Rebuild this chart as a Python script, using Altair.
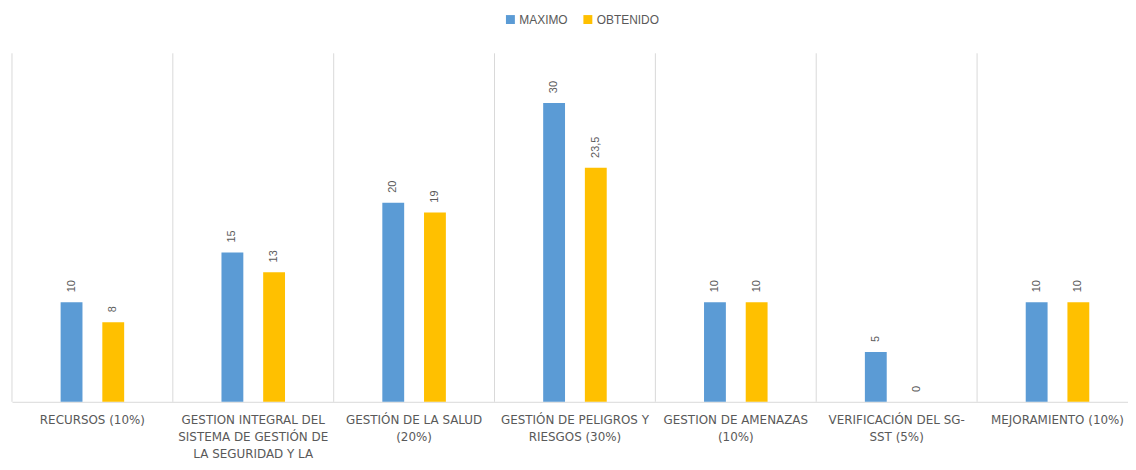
import altair as alt
import pandas as pd

categorias = [
    "RECURSOS (10%)",
    "GESTION INTEGRAL DEL|SISTEMA DE GESTIÓN DE|LA SEGURIDAD Y LA|SALUD EN EL TRABAJO",
    "GESTIÓN DE LA SALUD|(20%)",
    "GESTIÓN DE PELIGROS Y|RIESGOS (30%)",
    "GESTION DE AMENAZAS|(10%)",
    "VERIFICACIÓN DEL SG-|SST (5%)",
    "MEJORAMIENTO (10%)",
]
series = ["MAXIMO", "OBTENIDO"]
maximo = [10, 15, 20, 30, 10, 5, 10]
obtenido = [8, 13, 19, 23.5, 10, 0, 10]
colores = ["#5B9BD5", "#FFC000"]

rows = []
for c, m, o in zip(categorias, maximo, obtenido):
    rows.append({"cat": c, "serie": series[0], "valor": m})
    rows.append({"cat": c, "serie": series[1], "valor": o})
df = pd.DataFrame(rows)
df["etiqueta"] = df["valor"].map(lambda v: f"{v:g}".replace(".", ","))
cats_df = pd.DataFrame({"cat": categorias})

x_scale = alt.Scale(domain=categorias, range=[0, {"expr": "width + 10"}],
                    paddingInner=0, paddingOuter=0)
x_axis = alt.Axis(
    title=None,
    labelAngle=0,
    labelExpr="split(datum.label, '|')",
    labelFont="DejaVu Sans",
    labelFontSize=12,
    labelColor="#595959",
    labelLineHeight=17,
    labelPadding=13,
    labelLimit=200,
    ticks=False,
    domainColor="#d9d9d9",
    domainWidth=1,
    grid=False,
)
y_scale = alt.Scale(domain=[0, 35], nice=False)
off_scale = alt.Scale(domain=series, range=[49, 113], paddingInner=0.476, paddingOuter=0)

rules = alt.Chart(cats_df).mark_rule(color="#d9d9d9", strokeWidth=1).encode(
    x=alt.X("cat:N", bandPosition=0, scale=x_scale, axis=x_axis)
)

bars = alt.Chart(df).mark_bar().encode(
    x=alt.X("cat:N", scale=x_scale, axis=x_axis),
    xOffset=alt.XOffset("serie:N", scale=off_scale),
    y=alt.Y("valor:Q", scale=y_scale, axis=None),
    color=alt.Color(
        "serie:N",
        scale=alt.Scale(domain=series, range=colores),
        legend=alt.Legend(
            title=None,
            orient="none",
            legendX=496,
            legendY=-40,
            direction="horizontal",
            symbolType="square",
            symbolSize=81,
            symbolStrokeWidth=0,
            labelFont="Liberation Sans",
            labelFontSize=12,
            labelColor="#595959",
            labelOffset=3,
            columnPadding=14,
        ),
    ),
)

labels = alt.Chart(df).mark_text(
    angle=270, align="left", baseline="middle", dx=10,
    font="Liberation Sans", fontSize=11, color="#595959"
).encode(
    x=alt.X("cat:N", scale=x_scale, axis=x_axis),
    xOffset=alt.XOffset("serie:N", scale=off_scale),
    y=alt.Y("valor:Q", scale=y_scale, axis=None),
    text="etiqueta:N",
)

chart = alt.layer(rules, bars, labels).properties(
    width=1124,
    height=351,
    autosize=alt.AutoSizeParams(type="none"),
    padding={"left": 4, "top": 44, "right": 0, "bottom": 59},
    background="white",
).configure_view(stroke=None)

chart.save("out.html", embed_options={"renderer": "svg", "actions": False})
